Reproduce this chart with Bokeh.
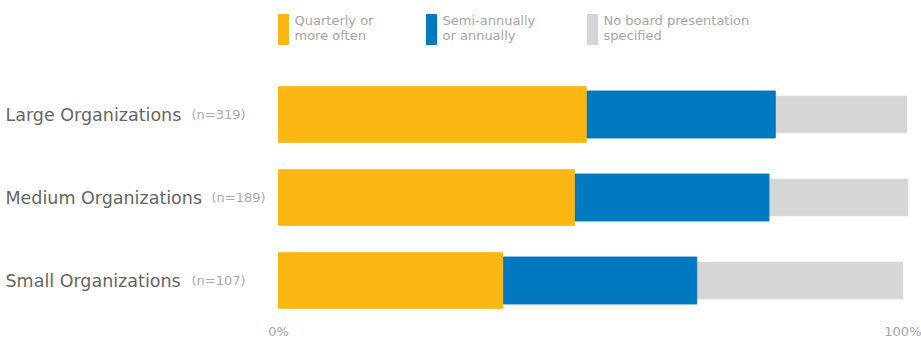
import numpy as np
from bokeh.plotting import figure
from bokeh.models import Range1d, FixedTicker, PrintfTickFormatter, ColumnDataSource
from bokeh.core.properties import value
from bokeh.embed import file_html
from bokeh.resources import INLINE

# ---------------- data ----------------
categories = ["Large Organizations", "Medium Organizations", "Small Organizations"]
sample_sizes = ["(n=319)", "(n=189)", "(n=107)"]
quarterly = [49.0, 47.1, 35.7]
semi_annual = [30.1, 31.0, 30.9]
no_board = [20.9, 22.1, 32.8]
series_names = ["Quarterly or\nmore often", "Semi-annually\nor annually",
                "No board presentation\nspecified"]
tick_values = [0, 100]

# ---------------- style / layout ----------------
colors = ["#FBB714", "#0079C1", "#D6D6D6"]
bar_heights = [0.67, 0.565, 0.44]
FONT = "DejaVu Sans"
FW, FH = 921, 314
X0_PX, X100_PX = 278, 906
ppu = (X100_PX - X0_PX) / 100.0
x_start = -X0_PX / ppu
x_end = x_start + FW / ppu
ROW_PX = 83.0
TOP_ROW_PX = 114.0
n_rows = len(categories)
y_pos = list(range(n_rows - 1, -1, -1))
y_end = (n_rows - 1) + TOP_ROW_PX / ROW_PX
y_start = y_end - FH / ROW_PX
label_left_px = 5
n_label_offsets = [186, 206, 186]
legend_box_px = [283, 431, 592]
legend_text_px = [294, 442, 603]


def px_x(cx):
    return x_start + cx / ppu


def px_y(cy):
    return y_end - cy / ROW_PX


q = np.array(quarterly)
s = np.array(semi_annual)
nb = np.array(no_board)
src = ColumnDataSource(dict(
    y=y_pos,
    q_left=np.zeros(n_rows), q_right=q,
    s_left=q, s_right=q + s,
    n_left=q + s, n_right=q + s + nb,
    cat=categories, nlab=sample_sizes,
    lx=[px_x(label_left_px)] * n_rows, noff=n_label_offsets,
))

p = figure(frame_width=FW, frame_height=FH,
           x_range=Range1d(x_start, x_end), y_range=Range1d(y_start, y_end),
           y_axis_location=None, output_backend="svg", toolbar_location=None,
           min_border=0, outline_line_color=None)
p.xgrid.visible = False
p.ygrid.visible = False

p.hbar(y="y", left="n_left", right="n_right", height=bar_heights[2], color=colors[2], source=src)
p.hbar(y="y", left="s_left", right="s_right", height=bar_heights[1], color=colors[1], source=src)
p.hbar(y="y", left="q_left", right="q_right", height=bar_heights[0], color=colors[0], source=src)

p.text(x="lx", y="y", text="cat", source=src, text_font=value(FONT),
       text_font_size="17.5px", text_color="#666666", text_baseline="alphabetic",
       text_align="left", y_offset=0)
p.text(x="lx", y="y", text="nlab", source=src, text_font=value(FONT),
       text_font_size="13px", text_color="#aaaaaa", text_baseline="alphabetic",
       text_align="left", x_offset="noff", y_offset=0)

# legend
p.rect(x=[px_x(c) for c in legend_box_px], y=[px_y(29)] * 3, width=10, height=30,
       width_units="screen", height_units="screen", color=colors)
line1 = [n.split("\n")[0] for n in series_names]
line2 = [n.split("\n")[1] for n in series_names]
lxs = [px_x(c) for c in legend_text_px]
p.text(x=lxs, y=[px_y(20)] * 3, text=line1, text_font=value(FONT), text_font_size="13px",
       text_color="#a6a6a6", text_baseline="alphabetic", text_align="left")
p.text(x=lxs, y=[px_y(35)] * 3, text=line2, text_font=value(FONT), text_font_size="13px",
       text_color="#a6a6a6", text_baseline="alphabetic", text_align="left")

ax = p.xaxis[0]
ax.ticker = FixedTicker(ticks=tick_values)
ax.formatter = PrintfTickFormatter(format="%d%%")
ax.axis_line_color = None
ax.major_tick_line_color = None
ax.minor_tick_line_color = None
ax.major_label_text_color = "#a6a6a6"
ax.major_label_text_font = FONT
ax.major_label_text_font_size = "13px"
ax.major_label_standoff = 3

open("out.html", "w").write(file_html(p, INLINE))
